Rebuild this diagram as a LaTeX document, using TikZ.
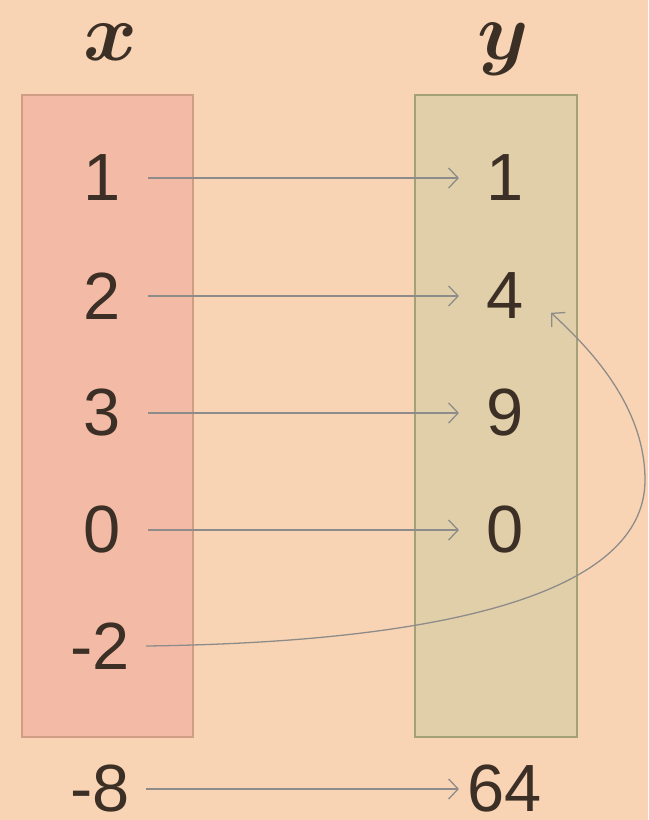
\RequirePackage{fix-cm}
\documentclass[tikz,border=0pt]{standalone}
\usepackage{amsmath}
\usepackage{fontspec}
\setmainfont{Liberation Sans}
\usetikzlibrary{arrows.meta}

\definecolor{bgpeach}{HTML}{F8D4B4}
\definecolor{xfill}{HTML}{F3BAA6}
\definecolor{xline}{HTML}{CF9C86}
\definecolor{yfill}{HTML}{E0CFA8}
\definecolor{yline}{HTML}{A3A178}
\definecolor{numink}{HTML}{3C2F25}
\definecolor{arrowgray}{HTML}{8E8C8A}

\tikzstyle{xcol} = [
    fill=xfill,
    draw=xline,
    line width=1.5pt
]
\tikzstyle{ycol} = [
    fill=yfill,
    draw=yline,
    line width=1.5pt
]
\tikzstyle{head} = [
    text=numink,
    inner sep=0pt,
    font=\fontsize{70}{72}\selectfont
]
\tikzstyle{num} = [
    text=numink,
    font=\fontsize{57}{60}\selectfont,
    inner sep=0pt,
    minimum width=2.75cm
]
\tikzstyle{arrow} = [
    draw=arrowgray,
    line width=1.1pt,
    -{Straight Barb[length=8pt,width=17pt]}
]

\begin{document}
\begin{tikzpicture}[x=0.03cm, y=-0.03cm]

\fill [bgpeach] (0,0) rectangle (648,820);
\useasboundingbox (0,0) rectangle (648,820);

\draw [xcol] (22,95) rectangle (193,737);
\draw [ycol] (415,95) rectangle (577,737);

\node (xhead) [head] at (111,42) {$\boldsymbol{x}$};
\node (yhead) [head] at (503,49) {$\boldsymbol{y}$};

\node (x1) [num] at (102,178) {1};
\node (x2) [num] at (102,296) {2};
\node (x3) [num] at (102,413) {3};
\node (x0) [num] at (102,530) {0};
\node (xm2) [num] at (100,646) {-2};
\node (xm8) [num] at (100,789) {-8};

\node (y1) [num] at (505,178) {1};
\node (y4) [num] at (505,296) {4};
\node (y9) [num] at (505,413) {9};
\node (y0) [num] at (505,530) {0};
\node (y64) [num] at (505,789) {64};

\coordinate (loop) at (645,480);

\draw [arrow] (x1) -- (y1);
\draw [arrow] (x2) -- (y4);
\draw [arrow] (x3) -- (y9);
\draw [arrow] (x0) -- (y0);
\draw [arrow] (xm8) -- (y64);
\draw [arrow] (xm2.east) .. controls (450,642) and (645,592) .. (loop)
    .. controls (645,400) and (580,340) .. (y4.-20);

\end{tikzpicture}
\end{document}
